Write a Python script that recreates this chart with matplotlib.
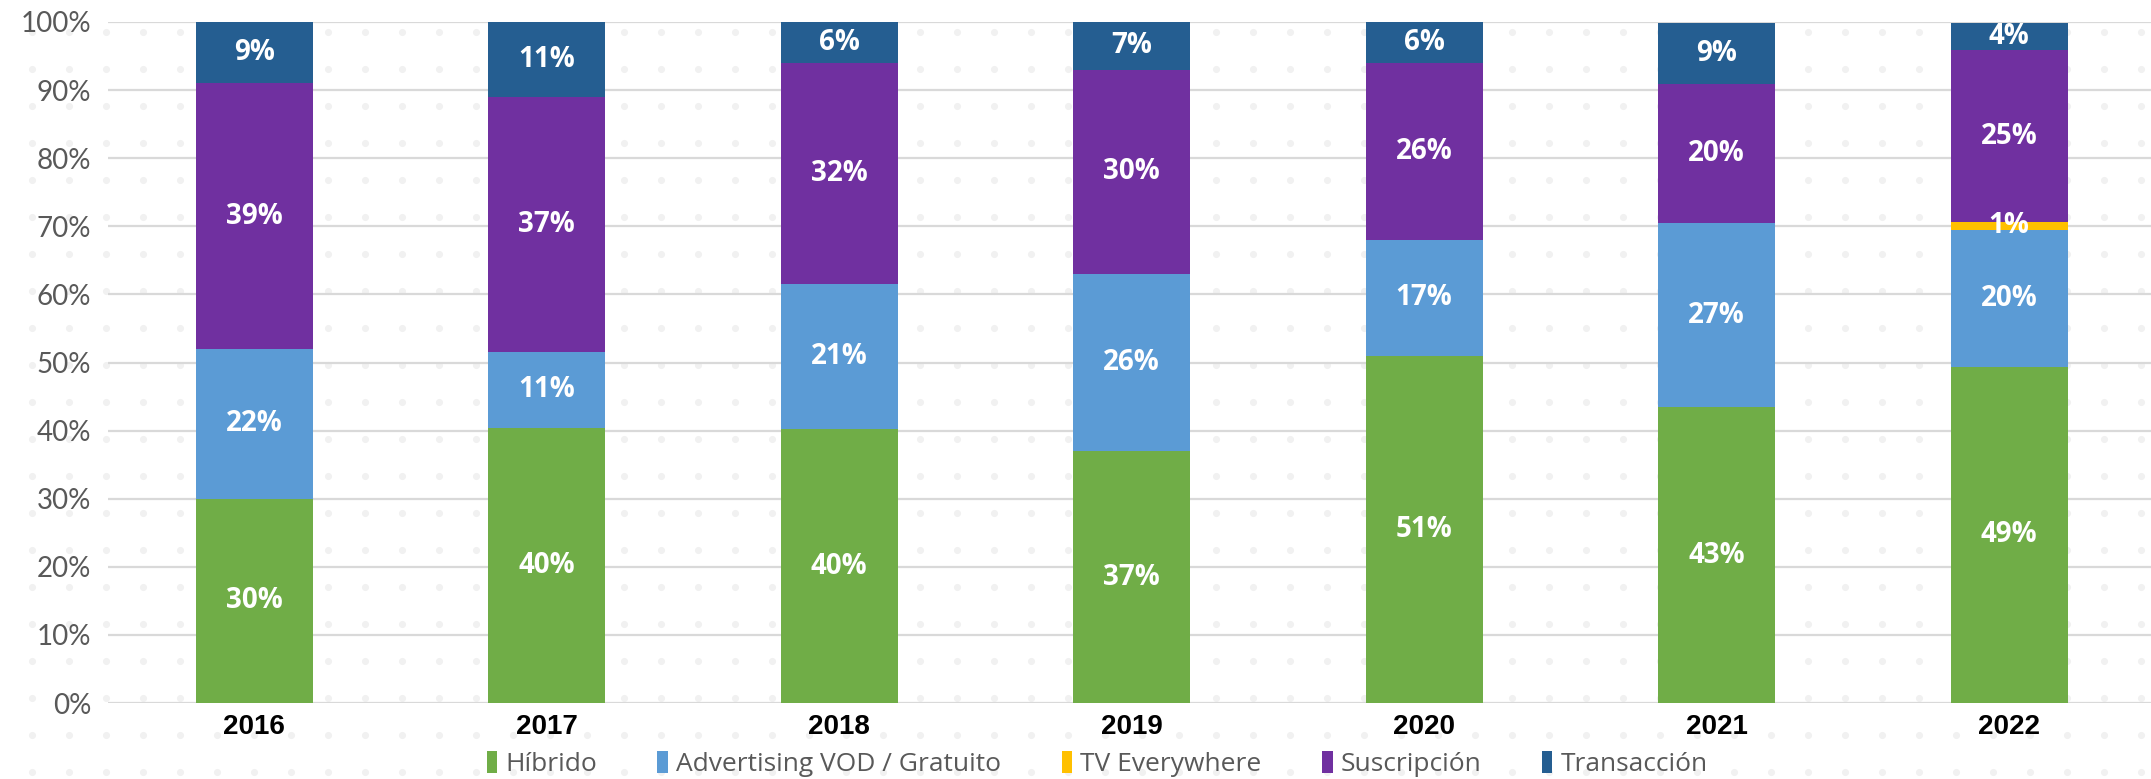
import numpy as np
import matplotlib
matplotlib.use('Agg')
import matplotlib.pyplot as plt

years = ['2016', '2017', '2018', '2019', '2020', '2021', '2022']
series = ['Híbrido', 'Advertising VOD / Gratuito', 'TV Everywhere', 'Suscripción', 'Transacción']
hibrido = [30.0, 40.4, 40.2, 37.0, 51.0, 43.4, 49.4]
avod = [22.0, 11.2, 21.4, 26.0, 17.0, 27.1, 20.1]
tve = [0.0, 0.0, 0.0, 0.0, 0.0, 0.0, 1.1]
suscripcion = [39.0, 37.4, 32.4, 30.0, 26.0, 20.4, 25.3]
transaccion = [9.0, 11.0, 6.0, 7.0, 6.0, 9.0, 4.0]
colors = ['#70AD47', '#5B9BD5', '#FFC000', '#7030A0', '#255E91']

W, H = 2151, 779
fig = plt.figure(figsize=(W / 100, H / 100), dpi=100)
fig.patch.set_facecolor('white')

# dotted background pattern
bg = fig.add_axes([0, 0, 1, 1], zorder=-1)
bg.set_xlim(0, W)
bg.set_ylim(H, 0)
bg.axis('off')
gx, gy = np.meshgrid(np.arange(32, W, 37), np.arange(32, H, 37))
bg.scatter(gx.ravel(), gy.ravel(), s=26, color='#f1f1f1', linewidths=0)

ax = fig.add_axes([108 / W, 1 - 703 / H, 1 - 108 / W, (703 - 22) / H])
ax.patch.set_visible(False)

x = np.arange(len(years))
bottom = np.zeros(len(years))
for name, vals, col in zip(series, [hibrido, avod, tve, suscripcion, transaccion], colors):
    vals = np.array(vals)
    ax.bar(x, vals, 0.4, bottom=bottom, color=col, label=name, zorder=3)
    for xi, b, v in zip(x, bottom, vals):
        if v > 0:
            ax.text(xi, b + v / 2, f'{v:.0f}%', ha='center', va='center', color='white',
                    fontsize=20, fontweight='bold', family='Open Sans', zorder=4)
    bottom += vals

ax.set_xlim(-0.5, 6.485)
ax.set_ylim(0, 100)
ax.set_yticks(np.arange(0, 101, 10))
ax.set_yticklabels([f'{v}%' for v in range(0, 101, 10)], fontsize=20, color='#595959', family='Lato')
ax.set_xticks(x)
ax.set_xticklabels(years, fontsize=20, fontweight='bold', family='Liberation Sans')
ax.tick_params(length=0, pad=8)
ax.tick_params(axis='y', pad=12)
ax.grid(axis='y', color='#d9d9d9', linewidth=1.6, zorder=0)
for s in ax.spines.values():
    s.set_visible(False)

leg = fig.legend(loc='center', bbox_to_anchor=(0.51, 1 - 764 / H), ncol=5, frameon=False,
                 prop={'family': 'Open Sans', 'size': 19}, handlelength=0.4, handleheight=0.9,
                 handletextpad=0.3, columnspacing=2.3)
for t in leg.get_texts():
    t.set_color('#595959')

fig.savefig('out.png', dpi=100)
